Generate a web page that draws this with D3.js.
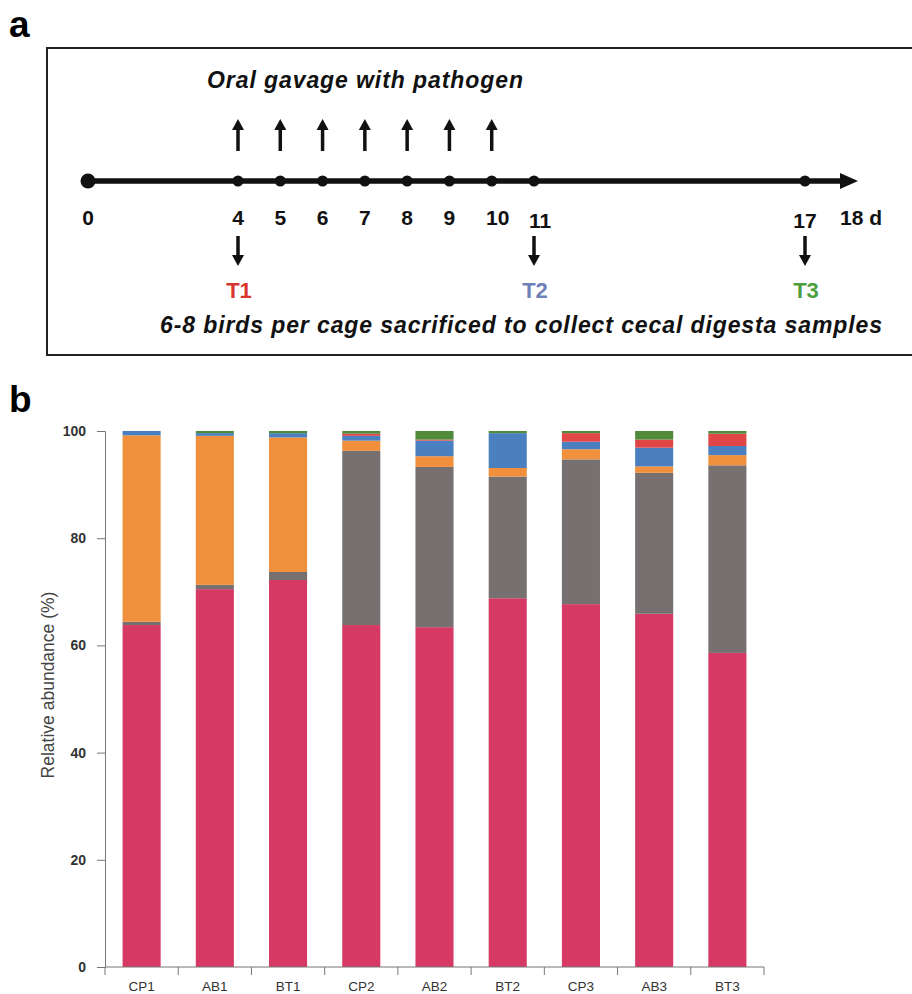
<!DOCTYPE html>
<html>
<head>
<meta charset="utf-8">
<script src="https://cdn.jsdelivr.net/npm/d3@7"></script>
<style>
  body { margin:0; background:#fff; }
  svg { display:block; font-family:"Liberation Sans", Arial, sans-serif; }
</style>
</head>
<body>
<svg id="viz" width="912" height="994"></svg>
<script>
// ---- panel a: timeline ----
const days = [0, 4, 5, 6, 7, 8, 9, 10, 11, 17]
const gavageDays = [4, 5, 6, 7, 8, 9, 10]
const sampleDays = [4, 11, 17]
const sampleNames = ["T1", "T2", "T3"]

// ---- panel b: stacked bars ----
const samples = ["CP1", "AB1", "BT1", "CP2", "AB2", "BT2", "CP3", "AB3", "BT3"]
const pinkVals   = [63.8, 70.5, 72.2, 63.8, 63.4, 68.8, 67.7, 65.9, 58.6]
const greyVals   = [0.6, 0.8, 1.5, 32.5, 29.9, 22.7, 27.0, 26.3, 35.0]
const orangeVals = [34.8, 27.8, 25.1, 1.9, 2.0, 1.6, 1.9, 1.2, 1.9]
const blueVals   = [0.8, 0.5, 0.8, 0.9, 2.9, 6.5, 1.4, 3.5, 1.7]
const redVals    = [0, 0, 0, 0.4, 0.2, 0, 1.6, 1.5, 2.3]
const greenVals  = [0, 0.4, 0.4, 0.5, 1.6, 0.4, 0.4, 1.6, 0.5]
const yTicks = [0, 20, 40, 60, 80, 100]

const svg = d3.select("svg#viz")

// panel labels
svg.append("text").attr("x", 9).attr("y", 37).attr("font-size", 37).attr("font-weight", "bold").text("a")
svg.append("text").attr("x", 9).attr("y", 412).attr("font-size", 37).attr("font-weight", "bold").text("b")

// box
svg.append("rect").attr("x", 47).attr("y", 48).attr("width", 880).attr("height", 307)
    .attr("fill", "none").attr("stroke", "#222").attr("stroke-width", 2)

const tx = d3.scaleLinear().domain([0, 4, 11, 17, 18]).range([88, 238, 534, 805, 858])
const lineY = 181
const a = svg.append("g")

a.append("line").attr("x1", tx(0)).attr("x2", tx(18) - 14).attr("y1", lineY).attr("y2", lineY)
    .attr("stroke", "#111").attr("stroke-width", 5.5)
a.append("path")
    .attr("d", `M${tx(18)},${lineY} L${tx(18) - 18},${lineY - 8} L${tx(18) - 18},${lineY + 8} Z`)
    .attr("fill", "#111")

a.selectAll("circle.day").data(days).join("circle").attr("class", "day")
    .attr("cx", d => tx(d)).attr("cy", lineY)
    .attr("r", d => d === 0 ? 7.5 : 5.5).attr("fill", "#111")

a.selectAll("text.day").data(days.concat([18])).join("text").attr("class", "day")
    .attr("x", d => d === 18 ? tx(d) + 3 : (d === 11 || d === 10 ? tx(d) + 6 : tx(d)))
    .attr("y", d => (d === 11 || d === 17) ? 228 : 225)
    .attr("text-anchor", "middle").attr("font-size", 21).attr("font-weight", "bold").attr("fill", "#111")
    .text(d => d === 18 ? "18 d" : d)

// arrows
function arrow(g, x, y0, y1) {
    const dir = y1 < y0 ? -1 : 1
    g.append("line").attr("x1", x).attr("x2", x).attr("y1", y0).attr("y2", y1 - dir * 9)
        .attr("stroke", "#111").attr("stroke-width", 3.5)
    g.append("path").attr("d", `M${x},${y1} L${x - 6},${y1 - dir * 11} L${x + 6},${y1 - dir * 11} Z`).attr("fill", "#111")
}
gavageDays.forEach(d => arrow(a, tx(d), 151, 119))
sampleDays.forEach(d => arrow(a, tx(d), 236, 266))

const tColors = ["#d9352f", "#6f7fb8", "#4c9e3c"]
a.selectAll("text.t").data(sampleDays).join("text").attr("class", "t")
    .attr("x", d => tx(d) + 1).attr("y", 298)
    .attr("text-anchor", "middle").attr("font-size", 22).attr("font-weight", "bold")
    .attr("fill", (d, i) => tColors[i]).text((d, i) => sampleNames[i])

a.append("text").attr("x", 207).attr("y", 88).attr("font-size", 23).attr("font-weight", "bold")
    .attr("font-style", "italic").attr("fill", "#111").attr("textLength", 316)
    .text("Oral gavage with pathogen")
a.append("text").attr("x", 160).attr("y", 333).attr("font-size", 23).attr("font-weight", "bold")
    .attr("font-style", "italic").attr("fill", "#111").attr("textLength", 722)
    .text("6-8 birds per cage sacrificed to collect cecal digesta samples")

// ---- stacked bar chart ----
const keys = ["pink", "grey", "orange", "blue", "red", "green"]
const colors = { pink: "#d63a64", grey: "#767070", orange: "#f08f3c", blue: "#4a80c0", red: "#e04646", green: "#508a3a" }
const table = samples.map((s, i) => ({
    sample: s, pink: pinkVals[i], grey: greyVals[i], orange: orangeVals[i],
    blue: blueVals[i], red: redVals[i], green: greenVals[i]
}))
const stacked = d3.stack().keys(keys)(table)

const x = d3.scaleBand().domain(samples).range([105, 764]).paddingInner(0.48).paddingOuter(0.24)
const y = d3.scaleLinear().domain([0, 100]).range([967, 431])

const b = svg.append("g")
b.selectAll("g.layer").data(stacked).join("g").attr("class", "layer")
    .attr("fill", d => colors[d.key])
    .selectAll("rect").data(d => d).join("rect")
    .attr("x", d => x(d.data.sample))
    .attr("width", x.bandwidth())
    .attr("y", d => y(d[1]))
    .attr("height", d => y(d[0]) - y(d[1]))

// y axis
const yAxis = b.append("g").attr("transform", "translate(105,0)")
    .call(d3.axisLeft(y).tickValues(yTicks).tickSize(8).tickPadding(11))
yAxis.selectAll("path,line").attr("stroke", "#777")
yAxis.selectAll("text").attr("font-size", 14).attr("font-weight", "bold").attr("fill", "#333")
    .attr("font-family", "Liberation Sans, Arial, sans-serif")

// x axis with ticks between bars
const step = x.step()
const xAxis = b.append("g").attr("transform", "translate(0,967)")
xAxis.append("line").attr("x1", 105).attr("x2", 764).attr("stroke", "#777")
xAxis.selectAll("line.tk").data(d3.range(samples.length + 1)).join("line").attr("class", "tk")
    .attr("x1", i => 105 + i * step).attr("x2", i => 105 + i * step)
    .attr("y1", 0).attr("y2", 8).attr("stroke", "#777")
xAxis.selectAll("text").data(samples).join("text")
    .attr("x", d => x(d) + x.bandwidth() / 2).attr("y", 24)
    .attr("text-anchor", "middle").attr("font-size", 13.5).attr("fill", "#333").text(d => d)

svg.append("text").attr("transform", "translate(54,685) rotate(-90)")
    .attr("text-anchor", "middle").attr("font-size", 17.5).attr("fill", "#444")
    .text("Relative abundance (%)")
</script>
</body>
</html>
